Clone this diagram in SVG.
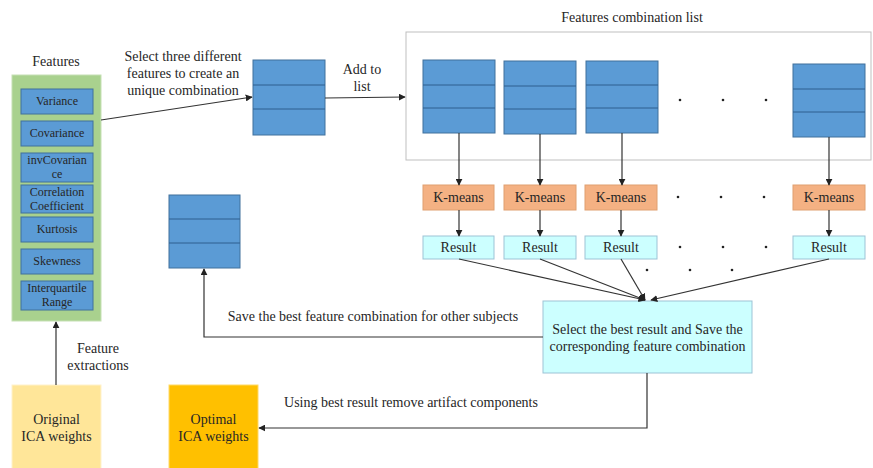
<svg xmlns="http://www.w3.org/2000/svg" width="873" height="468" viewBox="0 0 873 468">
<style>
text{font-family:"Liberation Serif","Times New Roman",serif;fill:#262626;text-anchor:middle}
.t12{font-size:12px}
.t13{font-size:14px}
.blue{fill:#5B9BD5;stroke:#41719C;stroke-width:1}
.div{stroke:#2F5F8F;stroke-width:1}
.km{fill:#F4B183;stroke:#E0A070;stroke-width:1}
.res{fill:#CCFFFF;stroke:#9DC3D6;stroke-width:1}
.ln{fill:none;stroke:#333;stroke-width:1.2}
.dot{fill:#222}
</style>
<defs>
<marker id="ah" viewBox="0 0 10 10" refX="9" refY="5" markerWidth="7" markerHeight="7" orient="auto" markerUnits="userSpaceOnUse">
<path d="M0,0 L10,5 L0,10 z" fill="#222"/>
</marker>
</defs>

<g id="features">
<text class="t13" x="56" y="66">Features</text>
<rect x="12" y="75" width="89" height="246" fill="#A9D18E" stroke="#C5E0B4"/>
<rect class="blue" x="21" y="89" width="72" height="25"/><text class="t12" x="57" y="105">Variance</text>
<rect class="blue" x="21" y="121" width="72" height="25"/><text class="t12" x="57" y="137">Covariance</text>
<rect class="blue" x="21" y="153" width="72" height="29"/><text class="t12" x="57" y="164">invCovarian</text><text class="t12" x="57" y="178">ce</text>
<rect class="blue" x="21" y="185" width="72" height="28"/><text class="t12" x="57" y="196">Correlation</text><text class="t12" x="57" y="210">Coefficient</text>
<rect class="blue" x="21" y="217" width="72" height="25"/><text class="t12" x="57" y="233">Kurtosis</text>
<rect class="blue" x="21" y="249" width="72" height="25"/><text class="t12" x="57" y="265">Skewness</text>
<rect class="blue" x="21" y="281" width="72" height="29"/><text class="t12" x="57" y="292">Interquartile</text><text class="t12" x="57" y="306">Range</text>
</g>

<g id="combo">
<rect class="blue" x="253" y="60" width="72" height="75"/>
<line class="div" x1="253" y1="85" x2="325" y2="85"/>
<line class="div" x1="253" y1="109" x2="325" y2="109"/>
</g>

<g id="list">
<text class="t13" x="632" y="22">Features combination list</text>
<rect x="406" y="32" width="465" height="128" fill="none" stroke="#BFBFBF"/>
<rect class="blue" x="423" y="60" width="72" height="73"/>
<line class="div" x1="423" y1="85" x2="495" y2="85"/><line class="div" x1="423" y1="108" x2="495" y2="108"/>
<rect class="blue" x="504" y="61" width="72" height="73"/>
<line class="div" x1="504" y1="86" x2="576" y2="86"/><line class="div" x1="504" y1="109" x2="576" y2="109"/>
<rect class="blue" x="586" y="61" width="72" height="72"/>
<line class="div" x1="586" y1="85" x2="658" y2="85"/><line class="div" x1="586" y1="108" x2="658" y2="108"/>
<rect class="blue" x="793" y="64" width="72" height="73"/>
<line class="div" x1="793" y1="89" x2="865" y2="89"/><line class="div" x1="793" y1="112" x2="865" y2="112"/>
<circle class="dot" cx="680" cy="100" r="1.3"/><circle class="dot" cx="723" cy="100" r="1.3"/><circle class="dot" cx="766" cy="100" r="1.3"/>
</g>

<g id="kmeans">
<rect class="km" x="423" y="185" width="71" height="25"/><text class="t13" x="458.5" y="202">K-means</text>
<rect class="km" x="504" y="185" width="72" height="25"/><text class="t13" x="540" y="202">K-means</text>
<rect class="km" x="585" y="185" width="72" height="25"/><text class="t13" x="621" y="202">K-means</text>
<rect class="km" x="793" y="185" width="72" height="25"/><text class="t13" x="829" y="202">K-means</text>
<circle class="dot" cx="678" cy="197" r="1.3"/><circle class="dot" cx="721" cy="197" r="1.3"/><circle class="dot" cx="764" cy="197" r="1.3"/>
</g>

<g id="results">
<rect class="res" x="423" y="236" width="71" height="23"/><text class="t13" x="458.5" y="252">Result</text>
<rect class="res" x="504" y="236" width="72" height="23"/><text class="t13" x="540" y="252">Result</text>
<rect class="res" x="585" y="236" width="72" height="23"/><text class="t13" x="621" y="252">Result</text>
<rect class="res" x="793" y="236" width="72" height="23"/><text class="t13" x="829" y="252">Result</text>
<circle class="dot" cx="680" cy="247" r="1.3"/><circle class="dot" cx="723" cy="247" r="1.3"/><circle class="dot" cx="766" cy="247" r="1.3"/>
<circle class="dot" cx="647" cy="270" r="1.3"/><circle class="dot" cx="690" cy="270" r="1.3"/><circle class="dot" cx="732" cy="270" r="1.3"/>
</g>

<g id="select">
<rect class="res" x="543" y="301" width="209" height="72"/>
<text class="t13" x="647.5" y="334">Select the best result and Save the</text>
<text class="t13" x="647.5" y="351">corresponding feature combination</text>
</g>

<g id="best">
<rect class="blue" x="169" y="195" width="71" height="73"/>
<line class="div" x1="169" y1="219" x2="240" y2="219"/>
<line class="div" x1="169" y1="243" x2="240" y2="243"/>
</g>

<g id="original">
<rect x="12" y="385" width="89" height="90" fill="#FFE699" stroke="#FFF2CC"/>
<text class="t13" x="56.5" y="424">Original</text>
<text class="t13" x="56.5" y="441">ICA weights</text>
</g>

<g id="optimal">
<rect x="169" y="385" width="89" height="90" fill="#FFC000" stroke="#FFD966"/>
<text class="t13" x="213.5" y="424">Optimal</text>
<text class="t13" x="213.5" y="441">ICA weights</text>
</g>

<g id="connectors">
<line class="ln" x1="101" y1="120" x2="252" y2="97" marker-end="url(#ah)"/>
<line class="ln" x1="325" y1="98" x2="405" y2="97" marker-end="url(#ah)"/>
<line class="ln" x1="459" y1="133" x2="459" y2="185" marker-end="url(#ah)"/>
<line class="ln" x1="540" y1="134" x2="540" y2="185" marker-end="url(#ah)"/>
<line class="ln" x1="622" y1="133" x2="622" y2="185" marker-end="url(#ah)"/>
<line class="ln" x1="829" y1="137" x2="829" y2="185" marker-end="url(#ah)"/>
<line class="ln" x1="459" y1="210" x2="459" y2="236" marker-end="url(#ah)"/>
<line class="ln" x1="540" y1="210" x2="540" y2="236" marker-end="url(#ah)"/>
<line class="ln" x1="621" y1="210" x2="621" y2="236" marker-end="url(#ah)"/>
<line class="ln" x1="829" y1="210" x2="829" y2="236" marker-end="url(#ah)"/>
<line class="ln" x1="459" y1="259" x2="645" y2="300" marker-end="url(#ah)"/>
<line class="ln" x1="540" y1="259" x2="645" y2="300" marker-end="url(#ah)"/>
<line class="ln" x1="621" y1="259" x2="645" y2="300" marker-end="url(#ah)"/>
<line class="ln" x1="829" y1="259" x2="651" y2="300" marker-end="url(#ah)"/>
<polyline class="ln" points="543,337 204,337 204,269" marker-end="url(#ah)"/>
<polyline class="ln" points="647,373 647,428 259,428" marker-end="url(#ah)"/>
<line class="ln" x1="56" y1="385" x2="56" y2="322" marker-end="url(#ah)"/>
<text class="t13" x="183" y="61">Select three different</text>
<text class="t13" x="183" y="78">features to create an</text>
<text class="t13" x="183" y="95">unique combination</text>
<text class="t13" x="362" y="74">Add to</text>
<text class="t13" x="362" y="91">list</text>
<text class="t13" x="373" y="321">Save the best feature combination for other subjects</text>
<text class="t13" x="411" y="407">Using best result remove artifact components</text>
<text class="t13" x="98" y="353">Feature</text>
<text class="t13" x="98" y="370">extractions</text>
</g>
</svg>
